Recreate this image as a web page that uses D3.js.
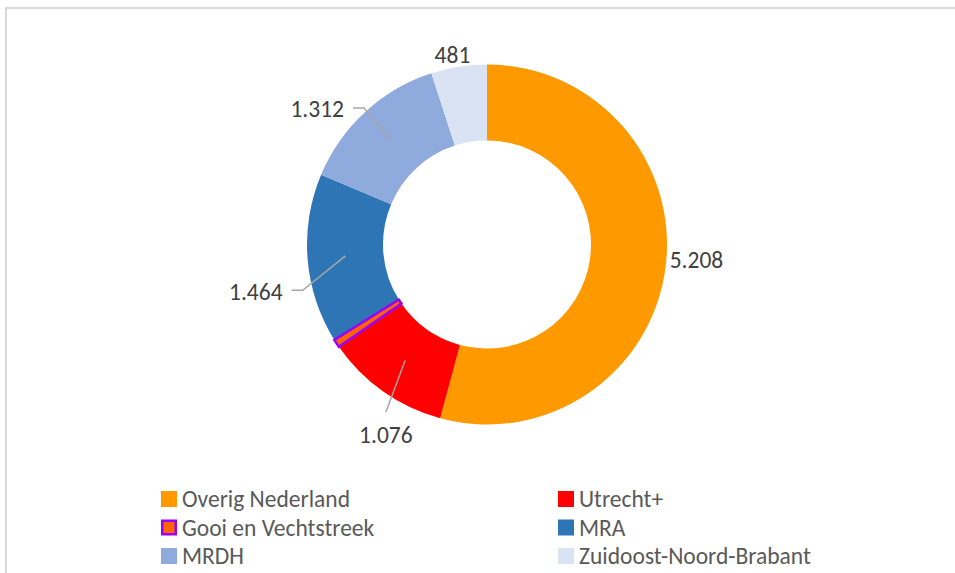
<!DOCTYPE html>
<html>
<head>
<meta charset="utf-8">
<script src="https://cdn.jsdelivr.net/npm/d3@7"></script>
<style>
  body { margin: 0; background: #fff; }
  svg { display: block; }
  text { font-family: Calibri, Carlito, Lato, sans-serif; }
</style>
</head>
<body>
<svg id="chart" width="955" height="573"></svg>
<script>
// Data
const categories = ['Overig Nederland', 'Utrecht+', 'Gooi en Vechtstreek', 'MRA', 'MRDH', 'Zuidoost-Noord-Brabant'];
const values = [5208, 1076, 70, 1464, 1312, 481];
const labelText = ['5.208', '1.076', '', '1.464', '1.312', '481'];
const colors = ['#FF9900', '#FF0000', '#FF6600', '#2E75B6', '#8FAADC', '#DAE3F3'];

// layout for the data labels (best-fit look): angle shift in degrees, radius, leader line
const labelLayout = {
  'Overig Nederland': { shift: -3.3, r: 210, leader: false },
  'Utrecht+': { shift: -7.3, r: 216, leader: true },
  'MRA': { shift: -7, r: 236, leader: true },
  'MRDH': { shift: -8.9, r: 217, leader: true },
  'Zuidoost-Noord-Brabant': { shift: -1.3, r: 193, leader: false }
};

const width = 955;
const height = 573;
const cx = 487;
const cy = 244.5;
const outerR = 180;
const innerR = 104;
const fontSize = 23.5;

const svg = d3.select('#chart');

// chart area border
svg
  .append('rect')
  .attr('x', 6)
  .attr('y', 8)
  .attr('width', width + 20)
  .attr('height', height + 20)
  .attr('fill', 'none')
  .attr('stroke', '#d9d9d9')
  .attr('stroke-width', 2);

const rows = categories.map((c, i) => ({ name: c, value: values[i], label: labelText[i], color: colors[i] }));

const pie = d3.pie().sort(null).value(d => d.value);
const arcs = pie(rows);

const arc = d3.arc().innerRadius(innerR).outerRadius(outerR);

const g = svg.append('g').attr('transform', `translate(${cx},${cy})`);

const slices = g
  .selectAll('path.slice')
  .data(arcs)
  .enter()
  .append('path')
  .attr('class', 'slice')
  .attr('d', arc)
  .attr('fill', d => d.data.color)
  .attr('stroke', d => (d.data.name === 'Gooi en Vechtstreek' ? '#9900FF' : 'none'))
  .attr('stroke-width', 2.5)
  .attr('stroke-linejoin', 'miter');

slices.filter(d => d.data.name === 'Gooi en Vechtstreek').raise();

// Data labels
function polar(angle, r) {
  return [Math.sin(angle) * r, -Math.cos(angle) * r];
}

const labelG = g.append('g');

arcs.forEach(d => {
  if (!d.data.label) return;
  const lay = labelLayout[d.data.name];
  const mid = (d.startAngle + d.endAngle) / 2;
  const [lx, ly] = polar(mid + (lay.shift * Math.PI) / 180, lay.r);

  const t = labelG
    .append('text')
    .attr('x', lx)
    .attr('y', ly)
    .attr('text-anchor', 'middle')
    .attr('dominant-baseline', 'central')
    .attr('font-size', fontSize)
    .attr('fill', '#404040')
    .text(d.data.label);

  if (!lay.leader) return;

  const box = t.node().getBBox();
  const [ccx, ccy] = arc.centroid(d);
  let pts;
  if (Math.abs(ccx - lx) > Math.abs(ccy - ly)) {
    // label to the side: short horizontal elbow
    const startX = box.x + box.width + 9;
    const yy = ly - 1.5;
    pts = [[startX, yy], [startX + 11, yy], [ccx, ccy]];
  } else {
    pts = [[lx, box.y - 9], [ccx, ccy]];
  }
  labelG
    .append('path')
    .attr('d', d3.line()(pts))
    .attr('fill', 'none')
    .attr('stroke', '#A6A6A6')
    .attr('stroke-width', 1.5);
});

// Legend
const legendX = [161, 558];
const legendY = [499, 527.5, 556];
const legend = svg.append('g');

rows.forEach((r, i) => {
  const col = i % 2;
  const row = Math.floor(i / 2);
  const item = legend.append('g').attr('transform', `translate(${legendX[col]},${legendY[row]})`);
  const isGooi = r.name === 'Gooi en Vechtstreek';
  item
    .append('rect')
    .attr('x', isGooi ? 1.25 : 0)
    .attr('y', isGooi ? -6.75 : -8)
    .attr('width', isGooi ? 13.5 : 16)
    .attr('height', isGooi ? 13.5 : 16)
    .attr('fill', r.color)
    .attr('stroke', isGooi ? '#9900FF' : 'none')
    .attr('stroke-width', 2.5);
  item
    .append('text')
    .attr('x', 21)
    .attr('y', 0)
    .attr('dominant-baseline', 'central')
    .attr('font-size', fontSize)
    .attr('fill', '#595959')
    .text(r.name);
});
</script>
</body>
</html>
